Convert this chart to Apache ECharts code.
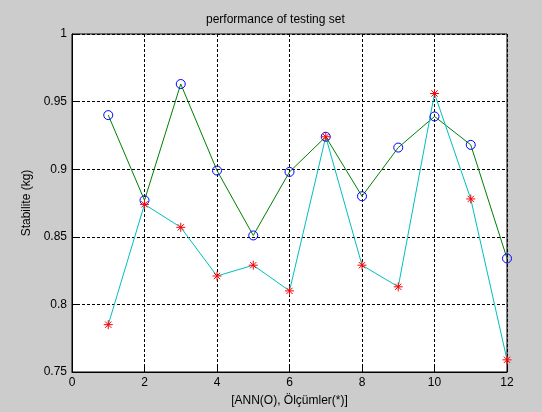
<!DOCTYPE html>
<html>
<head>
<meta charset="utf-8">
<script src="https://cdn.jsdelivr.net/npm/echarts@6/dist/echarts.min.js"></script>
<style>
html,body{margin:0;padding:0;background:#cccccc;}
#c{width:542px;height:412px;}
</style>
</head>
<body>
<div id="c"></div>
<script>
const xValues = [1,2,3,4,5,6,7,8,9,10,11,12];
const annValues = [0.940,0.877,0.963,0.899,0.851,0.898,0.924,0.880,0.916,0.939,0.918,0.834];
const olcumValues = [0.785,0.874,0.857,0.821,0.829,0.810,0.924,0.829,0.813,0.956,0.878,0.759];
const titleText = 'performance of testing set';
const xName = '[ANN(O), Ölçümler(*)]';
const yName = 'Stabilite (kg)';

const font = 'Liberation Sans, Arial, sans-serif';
const chart = echarts.init(document.getElementById('c'), null, {renderer:'canvas'});
const starPath = 'path://M0,-5L0,5M-5,0L5,0M-3.5,-3.5L3.5,3.5M-3.5,3.5L3.5,-3.5';
chart.setOption({
  backgroundColor:'#cccccc',
  animation:false,
  title:{text:titleText,left:206,top:14,padding:0,textStyle:{fontFamily:font,fontSize:12,fontWeight:'normal',color:'#000'}},
  grid:{left:72,right:35,top:34,bottom:36,show:true,backgroundColor:'#ffffff',borderColor:'#000',borderWidth:1},
  xAxis:{type:'value',min:0,max:12,interval:2,
    name:xName,nameLocation:'middle',nameGap:23,
    nameTextStyle:{fontFamily:font,fontSize:12,color:'#000'},
    axisLine:{lineStyle:{color:'#000'}},
    axisTick:{inside:true,length:5,lineStyle:{color:'#000'}},
    axisLabel:{fontFamily:font,fontSize:12,color:'#000',margin:5},
    splitLine:{show:true,lineStyle:{color:'#000',type:[3,2],width:1}}
  },
  yAxis:{type:'value',min:0.75,max:1,interval:0.05,
    name:yName,nameLocation:'middle',nameGap:36,
    nameTextStyle:{fontFamily:font,fontSize:12,color:'#000'},
    axisLine:{show:true,lineStyle:{color:'#000'}},
    axisTick:{show:true,inside:true,length:5,lineStyle:{color:'#000'}},
    axisLabel:{fontFamily:font,fontSize:12,color:'#000',margin:5},
    splitLine:{show:true,lineStyle:{color:'#000',type:[3,2],width:1}}
  },
  series:[
    {name:'ANN',type:'line',data:xValues.map((x,i)=>[x,annValues[i]]),
      lineStyle:{color:'#008000',width:1},
      symbol:'circle',symbolSize:9,
      itemStyle:{color:'none',borderColor:'#0000ff',borderWidth:1}},
    {name:'Olcum',type:'line',data:xValues.map((x,i)=>[x,olcumValues[i]]),
      lineStyle:{color:'#00bfbf',width:1},
      symbol:starPath,symbolSize:9,
      itemStyle:{color:'none',borderColor:'#ff0000',borderWidth:1}}
  ]
});
</script>
</body>
</html>
